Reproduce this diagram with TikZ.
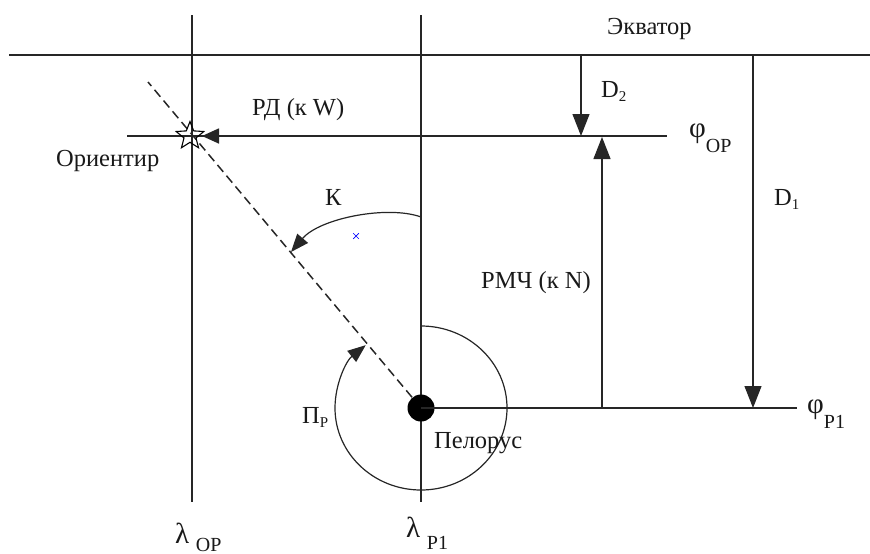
\documentclass[tikz,border=0pt]{standalone}
\usepackage{fontspec}
\setmainfont{Liberation Serif}
\usetikzlibrary{arrows.meta,shapes.geometric,shapes.misc}
\newcommand\subA[1]{\raisebox{-4pt}{\fontsize{15}{15}\selectfont #1}}
\newcommand\subB[1]{\raisebox{-15pt}{\fontsize{20}{20}\selectfont #1}}
\newcommand\grk[1]{{\fontsize{29}{29}\selectfont #1}}
\begin{document}
\begin{tikzpicture}[x=1pt,y=-1pt,
  ln/.style={line width=1.2pt, black!85},
  arr/.style={ln,-{Triangle[length=22pt,width=17pt]}},
  sarr/.style={ln,-{Triangle[length=18pt,width=14pt]}},
  lbl/.style={font=\fontsize{24.5}{26}\selectfont, inner sep=0pt, anchor=base west, text=black!90},
]
\useasboundingbox (0,0) rectangle (870,554);
% coordinates
\coordinate (eqL) at (9,55);
\coordinate (eqR) at (870,55);
\coordinate (lopT) at (192,15);
\coordinate (lopB) at (192,502);
\coordinate (lpT) at (421,15);
\coordinate (lpB) at (421,502);
\coordinate (fopL) at (127,136);
\coordinate (fopR) at (667,136);
\coordinate (fpR) at (797,408);
\coordinate (d2a) at (581,55);
\coordinate (d2b) at (581,136);
\coordinate (rma) at (602,408);
\coordinate (rmb) at (602,137);
\coordinate (d1a) at (753,55);
\coordinate (d1b) at (753,408);
\coordinate (rda) at (602,136);
\coordinate (dashEnd) at (148,82);
\coordinate (ka) at (421,217);
\coordinate (kb) at (291,252);
% lines
\draw[ln] (eqL) -- (eqR);
\draw[ln] (lopT) -- (lopB);
\draw[ln] (lpT) -- (lpB);
\draw[ln] (fopL) -- (fopR);
\draw[line width=1.5pt, black!85, dash pattern=on 9pt off 5pt] (421,408) -- (dashEnd);
\node[star, star points=5, star point ratio=2.3, draw, line width=1.1pt, minimum size=29pt, inner sep=0pt] (orient) at (190,136) {};
\node[circle, fill=black, minimum size=27pt, inner sep=0pt] (pel) at (421,408) {};
\draw[ln] (pel.center) -- (fpR);
\draw[arr] (d2a) -- (d2b);
\draw[arr] (rma) -- (rmb);
\draw[arr] (d1a) -- (d1b);
\draw[line width=1.7pt, black!85, -{Triangle[length=17pt,width=15pt]}] (rda) -- (202,136);
\draw[sarr] (ka) .. controls (388,205) and (320,218) .. (kb);
\draw[sarr] (pel.center) ++(0,-82) arc[start angle=-90, end angle=230, x radius=86, y radius=82];
\node[cross out, draw=blue, line width=0.7pt, minimum size=5pt, inner sep=0pt] (ctr) at (356,236) {};
% labels
\node[lbl] (eq) at (607,34) {Экватор};
\node[lbl] (d2) at (601,97) {D\subA{2}};
\node[lbl] (fop) at (689,137) {\grk{φ}\subB{OP}};
\node[lbl] (d1) at (774,205) {D\subA{1}};
\node[lbl] (rd) at (252,115) {РД (к W)};
\node[lbl] (ori) at (56,166) {Ориентир};
\node[lbl] (k) at (325,205) {К};
\node[lbl] (rmch) at (481,288) {РМЧ (к N)};
\node[lbl] (pp) at (302,423) {П\subA{Р}};
\node[lbl] (pelt) at (434,448) {Пелорус};
\node[lbl] (lop) at (175,543) {\grk{λ}\raisebox{-8pt}{\fontsize{20}{20}\selectfont\,\,OP}};
\node[lbl] (lp1) at (406,537) {\grk{λ}\raisebox{-12pt}{\fontsize{20}{20}\selectfont\,\,P1}};
\node[lbl] (fp1) at (807,413) {\grk{φ}\subB{P1}};
\end{tikzpicture}
\end{document}
